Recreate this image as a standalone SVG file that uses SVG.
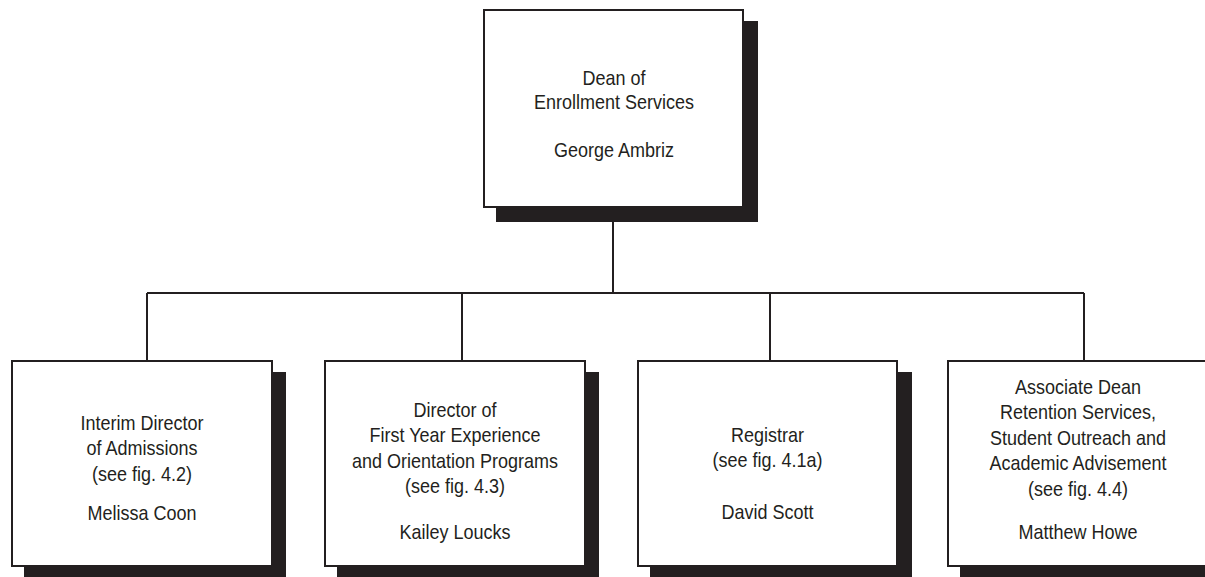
<svg xmlns="http://www.w3.org/2000/svg" width="1205" height="577" viewBox="0 0 1205 577">
<style>
.shadow{fill:#231f20;}
.box{fill:#ffffff;stroke:#231f20;stroke-width:2;}
.conn{stroke:#231f20;stroke-width:2;fill:none;}
text{font-family:"Liberation Sans",Arial,sans-serif;font-size:20px;fill:#231f20;text-anchor:middle;}
</style>
<rect width="1205" height="577" fill="#ffffff"/>
<g id="connectors">
<path class="conn" d="M613,207 V293 M147,293 H1084 M147,293 V361 M462,293 V361 M770,293 V361 M1084,293 V361"/>
</g>
<g id="dean">
<rect class="shadow" x="496" y="21" width="262" height="201"/>
<rect class="box" x="484" y="10" width="259" height="197"/>
<g transform="translate(614 0) scale(0.9 1)">
<text x="0" y="85">Dean of</text>
<text x="0" y="109">Enrollment Services</text>
<text x="0" y="157">George Ambriz</text>
</g>
</g>
<g id="admissions">
<rect class="shadow" x="24" y="372" width="262" height="210"/>
<rect class="box" x="12" y="361" width="260" height="205"/>
<g transform="translate(142 0) scale(0.9 1)">
<text x="0" y="430">Interim Director</text>
<text x="0" y="455.5">of Admissions</text>
<text x="0" y="481">(see fig. 4.2)</text>
<text x="0" y="520">Melissa Coon</text>
</g>
</g>
<g id="firstyear">
<rect class="shadow" x="337" y="372" width="262" height="210"/>
<rect class="box" x="325" y="361" width="260" height="205"/>
<g transform="translate(455 0) scale(0.9 1)">
<text x="0" y="417">Director of</text>
<text x="0" y="442.5">First Year Experience</text>
<text x="0" y="468">and Orientation Programs</text>
<text x="0" y="493.5">(see fig. 4.3)</text>
<text x="0" y="539">Kailey Loucks</text>
</g>
</g>
<g id="registrar">
<rect class="shadow" x="650" y="372" width="262" height="210"/>
<rect class="box" x="638" y="361" width="259" height="205"/>
<g transform="translate(767.5 0) scale(0.9 1)">
<text x="0" y="442">Registrar</text>
<text x="0" y="467.5">(see fig. 4.1a)</text>
<text x="0" y="519">David Scott</text>
</g>
</g>
<g id="retention">
<rect class="shadow" x="960" y="372" width="262" height="210"/>
<rect class="box" x="948" y="361" width="260" height="205"/>
<g transform="translate(1078 0) scale(0.9 1)">
<text x="0" y="394">Associate Dean</text>
<text x="0" y="419.5">Retention Services,</text>
<text x="0" y="445">Student Outreach and</text>
<text x="0" y="470.5">Academic Advisement</text>
<text x="0" y="496">(see fig. 4.4)</text>
<text x="0" y="539">Matthew Howe</text>
</g>
</g>
</svg>
